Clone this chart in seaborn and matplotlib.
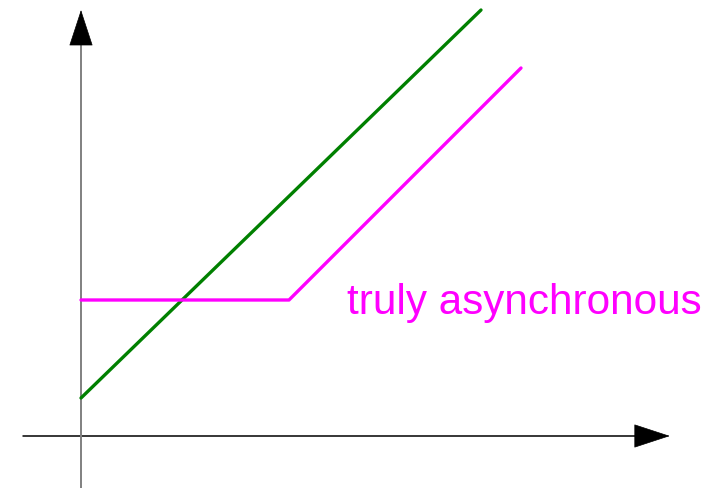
# Import Libraries
import pandas as pd
import matplotlib
matplotlib.use("Agg")
import matplotlib.pyplot as plt
import seaborn as sns

# Data (in chart units, origin at the axis crossing)
green_x = [0, 10]
green_y = [0.95, 10.65]

async_x = [0, 5.2, 11]
async_y = [3.4, 3.4, 9.2]

label_text = "truly asynchronous"

df = pd.concat([
    pd.DataFrame({"x": green_x, "y": green_y, "series": "sync"}),
    pd.DataFrame({"x": async_x, "y": async_y, "series": "async"}),
])

# Style
sns.set_style("white")
plt.rcParams['font.family'] = ['Liberation Sans', 'DejaVu Sans']

fig = plt.figure(figsize=(7.19, 4.88), dpi=100)
ax = fig.add_axes([0, 0, 1, 1])

sns.lineplot(
    data=df, x="x", y="y", hue="series",
    palette={"sync": "#008000", "async": "#ff00ff"},
    linewidth=2.4, sort=False, estimator=None,
    legend=False, ax=ax
)

ax.set_xlim(-2.025, 15.95)
ax.set_ylim(-1.3, 10.9)
ax.axis("off")

# Axes with arrow heads
ax.plot([-1.45, 13.85], [0, 0], color="black", lw=1.1, zorder=1)
ax.annotate("", xy=(14.72, 0), xytext=(13.85, 0),
            arrowprops=dict(arrowstyle="-|>,head_length=1.22,head_width=0.4",
                            mutation_scale=20, color="black", lw=0.5,
                            shrinkA=0, shrinkB=0))
ax.plot([0, 0], [-1.3, 9.8], color="#808080", lw=1.4, zorder=1)
ax.annotate("", xy=(0, 10.65), xytext=(0, 9.8),
            arrowprops=dict(arrowstyle="-|>,head_length=1.22,head_width=0.4",
                            mutation_scale=20, color="black", lw=0.5,
                            shrinkA=0, shrinkB=0))

# Label
ax.text(6.65, 3.05, label_text, color="#ff00ff", fontsize=30.4,
        ha="left", va="baseline")

plt.savefig("out.png", dpi=100)
